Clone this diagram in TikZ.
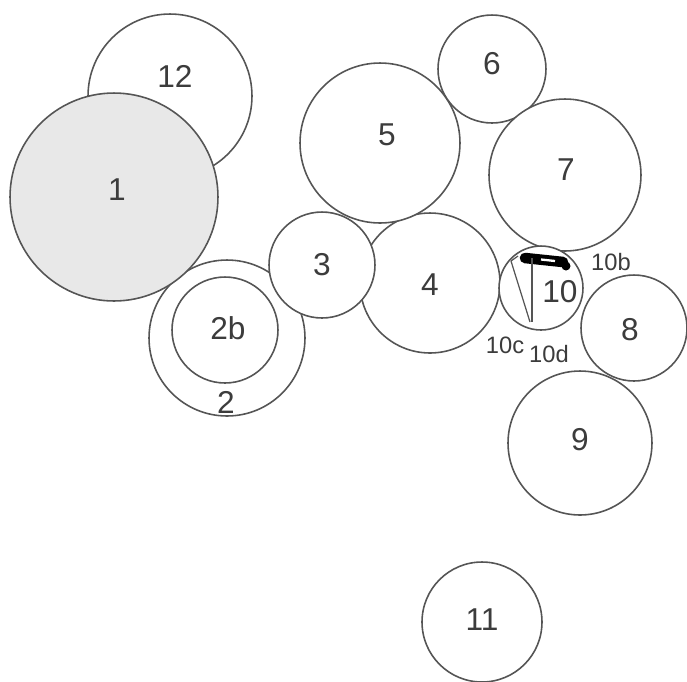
\documentclass[tikz,border=0pt]{standalone}
\usepackage{fontspec}
\setmainfont{Liberation Sans}
\usetikzlibrary{positioning}
\definecolor{inkgray}{RGB}{85, 85, 85}
\definecolor{txtgray}{RGB}{60, 60, 60}
\definecolor{shadegray}{RGB}{232, 232, 232}

\begin{document}
\begin{tikzpicture}[x=0.02cm, y=-0.02cm,
    disc/.style={circle, draw=inkgray, line width=0.9pt, fill=white, inner sep=0pt},
    num/.style={text=txtgray, font=\fontsize{18}{20}\selectfont},
    tag/.style={text=txtgray, font=\fontsize{13.5}{15}\selectfont}]
    \useasboundingbox (0,0) rectangle (687,681);

    % back row of circles
    \node[disc, minimum size=3.28cm] (c12) at (170,96) {};
    \node[disc, minimum size=3.12cm] (c2) at (227,338) {};
    \node[disc, minimum size=2.12cm] (c2b) at (225,330) {};
    \node[disc, minimum size=4.16cm, fill=shadegray] (c1) at (114,197) {};

    % middle group
    \node[disc, minimum size=2.8cm] (c4) at (430,283) {};
    \node[disc, minimum size=2.12cm] (c3) at (322,265) {};
    \node[disc, minimum size=3.2cm] (c5) at (380,143) {};
    \node[disc, minimum size=2.16cm] (c6) at (492,69) {};
    \node[disc, minimum size=3.04cm] (c7) at (565,175) {};

    % right group
    \node[disc, minimum size=1.68cm] (c10) at (541,288) {};
    \node[disc, minimum size=2.12cm] (c8) at (634,328) {};
    \node[disc, minimum size=2.88cm] (c9) at (580,443) {};
    \node[disc, minimum size=2.4cm] (c11) at (482,622) {};

    % marks inside 10
    \draw[black, line width=6pt, line cap=round] (525,258) -- (563,262);
    \draw[white, line width=1.3pt] (541,259.5) -- (555,261);
    \fill[black] (566,266) circle (4.5);
    \draw[inkgray, line width=0.7pt] (511,261) -- (530,322);
    \draw[inkgray, line width=0.7pt] (532,258) -- (532,322);
    \draw[inkgray, line width=0.7pt] (511,261) -- (518,256);

    % labels
    \node[num] (t12) at (175,76) {12};
    \node[num] (t1) at (117,190) {1};
    \node[num] (t2b) at (228,328) {2b};
    \node[num] (t2) at (226,402) {2};
    \node[num] (t3) at (322,265) {3};
    \node[num] (t4) at (430,285) {4};
    \node[num] (t5) at (387,135) {5};
    \node[num] (t6) at (492,64) {6};
    \node[num] (t7) at (566,170) {7};
    \node[num] (t10) at (560,292) {10};
    \node[num] (t8) at (630,330) {8};
    \node[num] (t9) at (580,440) {9};
    \node[num] (t11) at (482,620) {11};
    \node[tag] (t10b) at (611,262) {10b};
    \node[tag] (t10c) at (505,345) {10c};
    \node[tag] (t10d) at (549,354) {10d};
\end{tikzpicture}
\end{document}
